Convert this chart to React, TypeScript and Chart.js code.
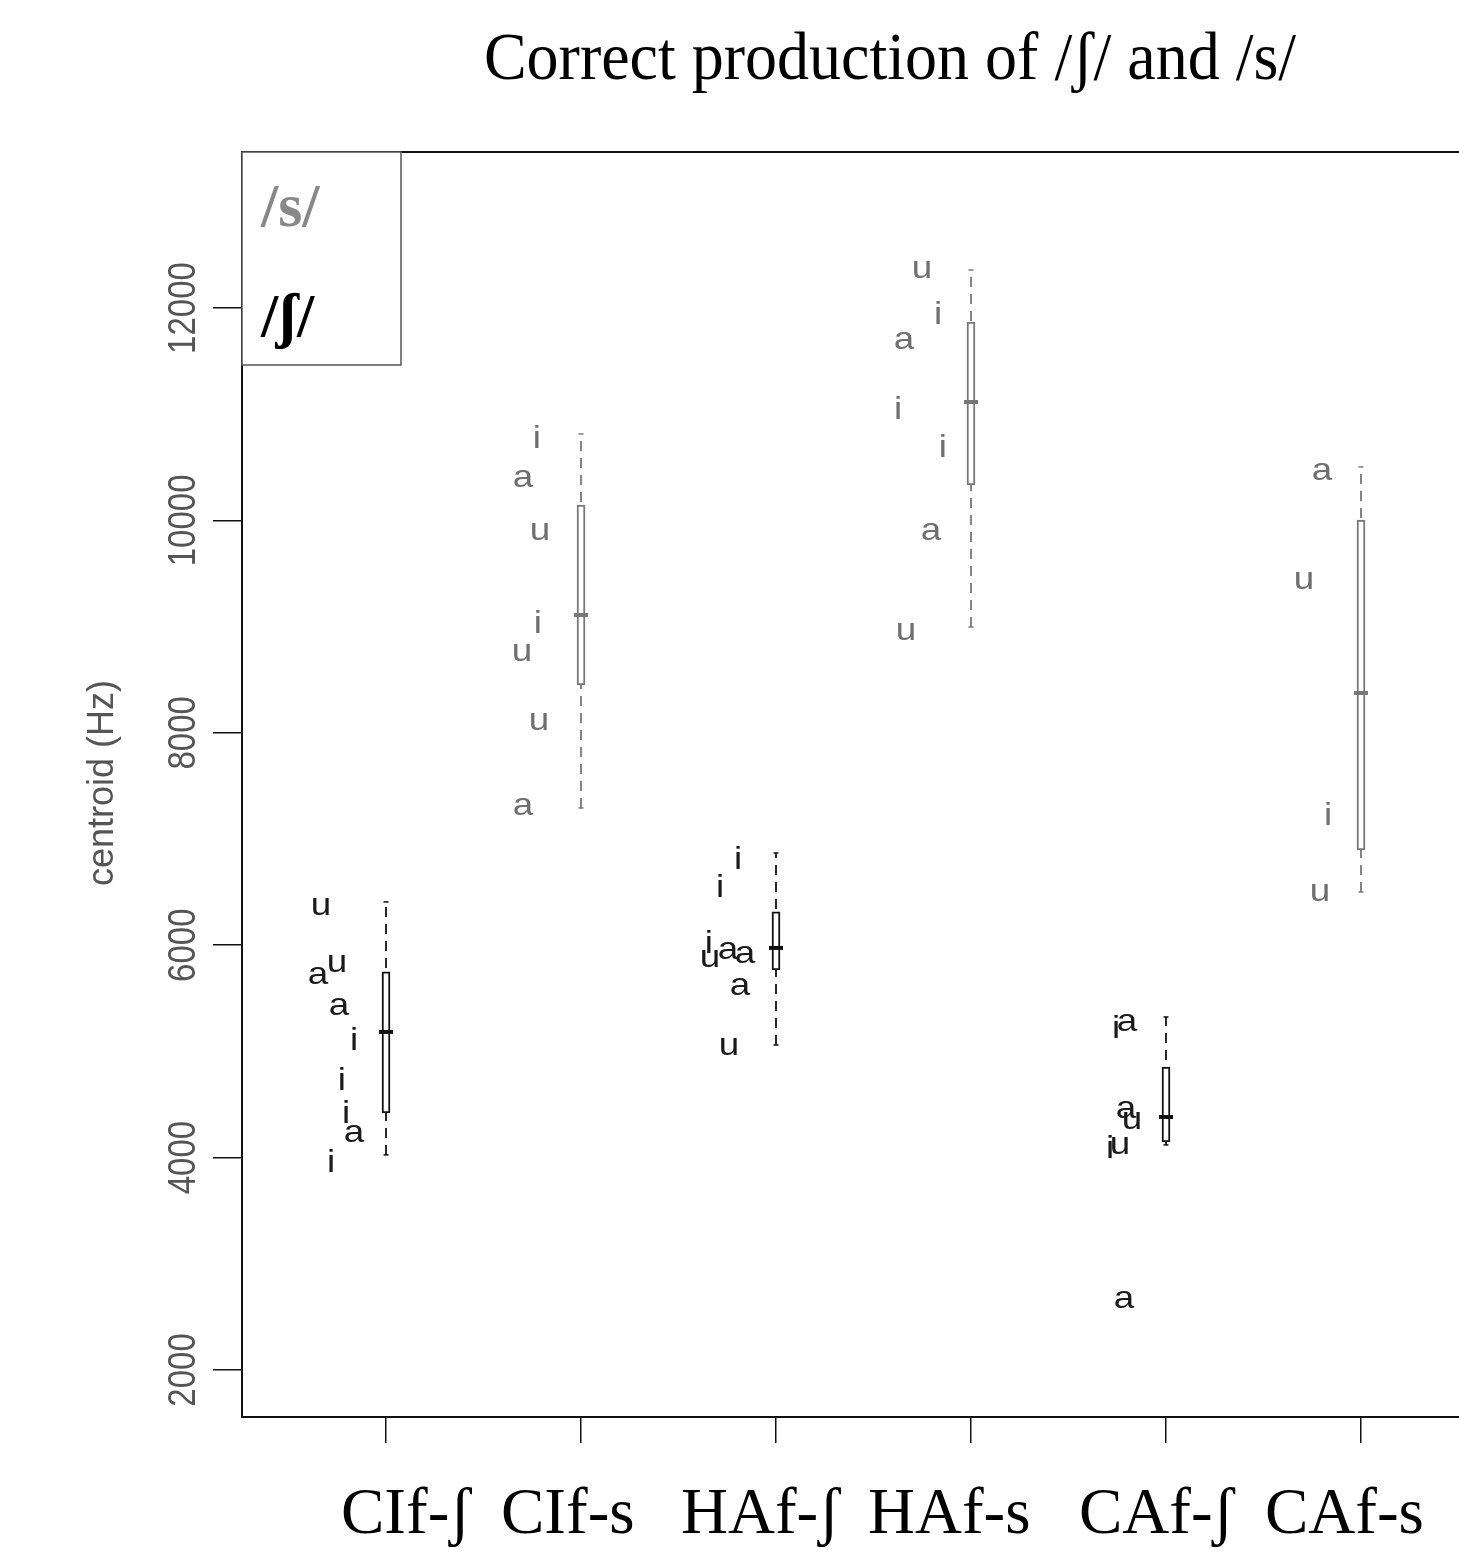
import React, { useEffect, useRef } from 'react';
import { Chart, registerables } from 'chart.js';

Chart.register(...registerables);

// ---------- data ----------
const title = 'Correct production of /ʃ/ and /s/';
const yAxisTitle = 'centroid (Hz)';
const categories = ['CIf-ʃ', 'CIf-s', 'HAf-ʃ', 'HAf-s', 'CAf-ʃ', 'CAf-s'];
const isS = [false, true, false, true, false, true];
const yTicks = [2000, 4000, 6000, 8000, 10000, 12000];

const whiskerLow = [4025, 7292, 5060, 8996, 4119, 6501];
const q1 = [4420, 8450, 5767, 10333, 4147, 6897];
const median = [5183, 9109, 5974, 11115, 4382, 8375];
const q3 = [5748, 10145, 6313, 11868, 4853, 10004];
const whiskerHigh = [6407, 10814, 6868, 12358, 5324, 10503];

// individual tokens (vowel context label, jittered x position, centroid)
const vowelsCIfSh = ['u', 'a', 'u', 'a', 'i', 'i', 'i', 'a', 'i'];
const xCIfSh = [0.667, 0.651, 0.749, 0.759, 0.836, 0.774, 0.795, 0.836, 0.718];
const yCIfSh = [6360, 5710, 5823, 5418, 5089, 4712, 4401, 4222, 3940];

const vowelsCIfS = ['i', 'a', 'u', 'i', 'u', 'u', 'a'];
const xCIfS = [1.774, 1.703, 1.79, 1.779, 1.697, 1.785, 1.703];
const yCIfS = [10757, 10390, 9891, 9015, 8751, 8102, 7301];

const vowelsHAfSh = ['i', 'i', 'i', 'a', 'a', 'u', 'a', 'u'];
const xHAfSh = [2.805, 2.713, 2.656, 2.754, 2.841, 2.662, 2.815, 2.759];
const yHAfSh = [6793, 6529, 6002, 5946, 5908, 5870, 5607, 5042];

const vowelsHAfS = ['u', 'i', 'a', 'i', 'i', 'a', 'u'];
const xHAfS = [3.749, 3.831, 3.656, 3.626, 3.856, 3.795, 3.667];
const yHAfS = [12358, 11925, 11689, 11030, 10672, 9891, 8949];

const vowelsCAfSh = ['i', 'a', 'a', 'u', 'i', 'u', 'a'];
const xCAfSh = [4.744, 4.8, 4.795, 4.826, 4.713, 4.764, 4.785];
const yCAfSh = [5202, 5268, 4448, 4345, 4072, 4109, 2659];

const vowelsCAfS = ['a', 'u', 'i', 'u'];
const xCAfS = [5.8, 5.708, 5.831, 5.79];
const yCAfS = [10456, 9429, 7207, 6492];

const legendLabels = ['/s/', '/ʃ/'];

// ---------- styles ----------
const BLACK = '#111111';
const GRAY = '#777777';
const TEXT_GRAY = '#555555';
const W = 1459;
const H = 1552;
const xLabelLeftOffsets = [-45, -80, -95, -103, -87, -96];

function drawText(
  ctx: CanvasRenderingContext2D,
  text: string,
  x: number,
  y: number,
  font: string,
  color: string,
  align: CanvasTextAlign,
  sx = 1,
  sy = 1,
  rot = 0
) {
  ctx.save();
  ctx.translate(x, y);
  if (rot) ctx.rotate(rot);
  ctx.scale(sx, sy);
  ctx.font = font;
  ctx.fillStyle = color;
  ctx.textAlign = align;
  ctx.textBaseline = 'alphabetic';
  ctx.fillText(text, 0, 0);
  ctx.restore();
}

const tokenSets = [
  { v: vowelsCIfSh, x: xCIfSh, y: yCIfSh, s: false },
  { v: vowelsCIfS, x: xCIfS, y: yCIfS, s: true },
  { v: vowelsHAfSh, x: xHAfSh, y: yHAfSh, s: false },
  { v: vowelsHAfS, x: xHAfS, y: yHAfS, s: true },
  { v: vowelsCAfSh, x: xCAfSh, y: yCAfSh, s: false },
  { v: vowelsCAfS, x: xCAfS, y: yCAfS, s: true },
];

const VOWEL_SIZE = 32;

const decorPlugin = {
  id: 'decor',
  afterDatasetsDraw(chart: any) {
    const ctx: CanvasRenderingContext2D = chart.ctx;
    chart.data.datasets.forEach((ds: any, i: number) => {
      if (!ds.vowelLabels) return;
      const meta = chart.getDatasetMeta(i);
      meta.data.forEach((el: any, j: number) => {
        drawText(
          ctx,
          ds.vowelLabels[j],
          el.x,
          el.y + (VOWEL_SIZE * 0.519) / 2,
          `${VOWEL_SIZE}px "Liberation Sans", Arial, sans-serif`,
          ds.vowelColor,
          'center',
          1.15,
          1
        );
      });
    });
  },
  afterDraw(chart: any) {
    const ctx: CanvasRenderingContext2D = chart.ctx;
    const area = chart.chartArea;
    const xs = chart.scales.x;
    const ys = chart.scales.y;

    // top frame line
    ctx.save();
    ctx.strokeStyle = BLACK;
    ctx.lineWidth = 2;
    ctx.beginPath();
    ctx.moveTo(area.left, area.top);
    ctx.lineTo(W, area.top);
    ctx.stroke();
    ctx.restore();

    // title
    drawText(ctx, title, 890, 79, '64px "Liberation Serif", "Times New Roman", serif', '#000', 'center', 1, 1.05);

    // x category labels
    categories.forEach((c, i) => {
      const px = xs.getPixelForValue(i + 1);
      drawText(ctx, c, px + xLabelLeftOffsets[i], 1533, '65px "Liberation Serif", "Times New Roman", serif', '#000', 'left');
    });

    // y tick labels (rotated)
    yTicks.forEach((v) => {
      const py = ys.getPixelForValue(v);
      drawText(ctx, String(v), 195, py, '33px "Liberation Sans", Arial, sans-serif', TEXT_GRAY, 'center', 1, 1.15, -Math.PI / 2);
    });

    // y axis title
    drawText(ctx, yAxisTitle, 113, 783, '36px "Liberation Sans", Arial, sans-serif', TEXT_GRAY, 'center', 1, 1, -Math.PI / 2);

    // legend box
    ctx.save();
    ctx.fillStyle = '#ffffff';
    ctx.fillRect(242, 152, 159, 213);
    ctx.strokeStyle = '#555555';
    ctx.lineWidth = 1.5;
    ctx.strokeRect(242, 152, 159, 213);
    ctx.restore();
    drawText(ctx, legendLabels[0], 261, 226, 'bold 62px "Liberation Serif", "Times New Roman", serif', '#888888', 'left');
    drawText(ctx, legendLabels[1], 261, 336, 'bold 62px "Liberation Serif", "Times New Roman", serif', '#000000', 'left');
  },
};

function whiskerData(wantS: boolean) {
  const out: any[] = [];
  categories.forEach((_, i) => {
    if (isS[i] !== wantS) return;
    out.push({ x: i + 1, y: whiskerLow[i] });
    out.push({ x: i + 1, y: whiskerHigh[i] });
    out.push({ x: i + 1, y: null });
  });
  return out;
}

export default function App() {
  const ref = useRef<HTMLCanvasElement | null>(null);

  useEffect(() => {
    if (!ref.current) return;
    const colorOf = (i: number) => (isS[i] ? GRAY : BLACK);

    const datasets: any[] = [];

    tokenSets.forEach((t) => {
      datasets.push({
        type: 'scatter',
        data: t.x.map((xv, j) => ({ x: xv, y: t.y[j] })),
        pointRadius: 0,
        pointHoverRadius: 0,
        vowelLabels: t.v,
        vowelColor: t.s ? '#6f6f6f' : '#1a1a1a',
        order: 0,
      });
    });

    datasets.push({
      type: 'scatter',
      data: categories.map((_, i) => ({ x: i + 1, y: median[i] })),
      pointStyle: 'line',
      pointRadius: 7,
      pointBorderWidth: 4,
      pointBorderColor: categories.map((_, i) => colorOf(i)),
      pointBackgroundColor: categories.map((_, i) => colorOf(i)),
      order: 1,
    });

    datasets.push({
      type: 'scatter',
      data: [
        ...categories.map((_, i) => ({ x: i + 1, y: whiskerLow[i] })),
        ...categories.map((_, i) => ({ x: i + 1, y: whiskerHigh[i] })),
      ],
      pointStyle: 'line',
      pointRadius: 2.5,
      pointBorderWidth: 1.5,
      pointBorderColor: [...categories.map((_, i) => colorOf(i)), ...categories.map((_, i) => colorOf(i))],
      order: 1,
    });

    datasets.push({
      type: 'bar',
      data: categories.map((_, i) => ({ x: i + 1, y: [q1[i], q3[i]] })),
      backgroundColor: '#ffffff',
      borderColor: categories.map((_, i) => colorOf(i)),
      borderWidth: 2,
      borderSkipped: false,
      barThickness: 8,
      order: 2,
    });

    datasets.push({
      type: 'line',
      data: whiskerData(false),
      borderColor: BLACK,
      borderWidth: 1.8,
      borderDash: [10, 7],
      pointRadius: 0,
      spanGaps: false,
      fill: false,
      order: 3,
    });
    datasets.push({
      type: 'line',
      data: whiskerData(true),
      borderColor: GRAY,
      borderWidth: 1.8,
      borderDash: [10, 7],
      pointRadius: 0,
      spanGaps: false,
      fill: false,
      order: 3,
    });

    const chart = new Chart(ref.current, {
      type: 'scatter',
      data: { datasets },
      options: {
        responsive: false,
        animation: false,
        events: [],
        layout: { padding: { top: 152, left: 0, right: 0, bottom: 0 }, autoPadding: false },
        plugins: {
          legend: { display: false },
          tooltip: { enabled: false },
          title: { display: false },
        },
        scales: {
          x: {
            type: 'linear',
            offset: false,
            min: 0.2615,
            max: 6.5026,
            afterBuildTicks: (s: any) => {
              s.ticks = categories.map((_, i) => ({ value: i + 1 }));
            },
            afterFit: (s: any) => {
              s.height = 135;
            },
            ticks: { display: false },
            grid: { offset: false, drawOnChartArea: false, drawTicks: true, tickLength: 26, color: BLACK, lineWidth: 1.5 },
            border: { display: true, color: BLACK, width: 2 },
          },
          y: {
            type: 'linear',
            offset: false,
            min: 1557,
            max: 13469,
            afterBuildTicks: (s: any) => {
              s.ticks = yTicks.map((v) => ({ value: v }));
            },
            afterFit: (s: any) => {
              s.width = 242;
            },
            ticks: { display: false },
            grid: { offset: false, drawOnChartArea: false, drawTicks: true, tickLength: 29, color: BLACK, lineWidth: 1.5 },
            border: { display: true, color: BLACK, width: 2 },
          },
        },
      } as any,
      plugins: [decorPlugin],
    });

    return () => chart.destroy();
  }, []);

  return (
    <div style={{ position: 'absolute', left: 0, top: 0, width: W, height: H, background: '#fff' }}>
      <canvas ref={ref} width={W} height={H} style={{ display: 'block', width: W, height: H }} />
    </div>
  );
}
